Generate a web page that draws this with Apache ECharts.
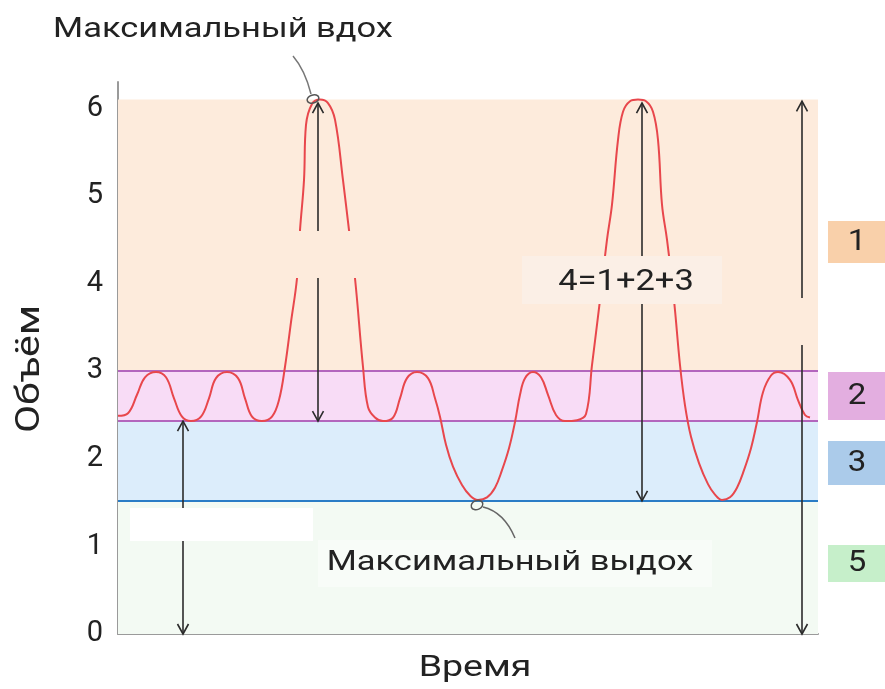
<!DOCTYPE html>
<html><head><meta charset="utf-8">
<script src="https://cdn.jsdelivr.net/npm/echarts@6/dist/echarts.min.js"></script>
<style>html,body{margin:0;padding:0;background:#fff;}#c{width:885px;height:689px;}</style>
</head><body><div id="c"></div>
<script>
// Time (arbitrary units) and volume values
const curveT = [0,1.0,1.9,2.7,3.8,4.8,5.6,6.4,7.3,8.3,9.1,9.8,10.9,12.0,12.7,13.4,14.4,15.4,16.1,16.7,17.3,17.9,18.2,18.6,18.8,19.4,20.2,21.0,21.7,22.5,23.1,23.7,24.5,25.0,25.7,26.5,27.5,28.2,28.9,29.9,31.0,31.7,32.2,32.8,33.5,34.4,35.2,36.0,36.9,37.7,38.4,39.1,39.7,40.2,40.7,41.5,42.3,43.0,43.8,44.7,45.9,46.8,47.4,48.2,48.9,49.4,50.0,50.5,51.2,52.0,52.8,53.5,54.0,54.4,54.9,55.6,56.2,56.7,57.3,58.1,59.0,59.7,60.4,61.2,61.9,62.6,63.3,63.9,64.5,65.3,66.0,67.2,68.0,68.7,69.2];
const curveV = [2.49,2.52,2.73,2.93,2.99,2.93,2.69,2.48,2.43,2.48,2.69,2.92,2.99,2.92,2.69,2.48,2.43,2.48,2.67,3.05,3.56,4.06,4.61,5.18,5.81,6.05,6.10,6.06,5.87,5.18,4.61,4.06,3.05,2.59,2.47,2.43,2.47,2.69,2.92,2.99,2.92,2.69,2.48,2.16,1.91,1.70,1.58,1.53,1.56,1.67,1.87,2.12,2.42,2.73,2.92,2.99,2.93,2.73,2.50,2.43,2.44,2.51,3.07,3.81,4.50,4.90,5.64,5.96,6.08,6.10,6.08,5.96,5.64,4.90,4.50,3.81,3.07,2.61,2.25,1.95,1.71,1.59,1.53,1.56,1.67,1.87,2.12,2.42,2.76,2.95,2.99,2.90,2.67,2.50,2.47];
// Volume levels
const levelTop = 6.1, levelTidalTop = 3.0, levelTidalBottom = 2.43, levelResidual = 1.52;
// Double arrows: [time, from volume, to volume]
const arrowT = [20.0, 6.5, 52.4, 68.4];
const arrowFrom = [2.43, 0, 1.52, 0];
const arrowTo = [6.06, 2.43, 6.06, 6.08];
const yTicks = [0,1,2,3,4,5,6];
const legendLabels = ['1','2','3','5'];

const chart = echarts.init(document.getElementById('c'), null, {renderer:'canvas'});
const FONT = 'Roboto';
const curve = curveT.map((t,i)=>[t,curveV[i]]);
const arrows = arrowT.map((t,i)=>[t,arrowFrom[i],arrowTo[i]]);

function arrowItem(params, api){
  const x = api.value(0);
  const a = api.coord([x, api.value(1)]);
  const b = api.coord([x, api.value(2)]);
  const st = {stroke:'#2b2b2b', lineWidth:1.6, fill:null};
  const h = 10, w = 5.5;
  return {type:'group', children:[
    {type:'line', shape:{x1:a[0],y1:a[1],x2:b[0],y2:b[1]}, style:st},
    {type:'polyline', shape:{points:[[b[0]-w,b[1]+h],[b[0],b[1]],[b[0]+w,b[1]+h]]}, style:st},
    {type:'polyline', shape:{points:[[a[0]-w,a[1]-h],[a[0],a[1]],[a[0]+w,a[1]-h]]}, style:st}
  ]};
}

const legendColors = ['#f9d0aa','#e3aee0','#abcbea','#c6efca'];
const legendY = [[221,263],[372,420],[441,485],[545,582]];
const graphics = [];
legendLabels.forEach((lab,i)=>{
  graphics.push({type:'rect', z:100, shape:{x:828,y:legendY[i][0],width:57,height:legendY[i][1]-legendY[i][0]}, style:{fill:legendColors[i]}});
  graphics.push({type:'text', z:101, x:857, y:(legendY[i][0]+legendY[i][1])/2, scaleX:1.1, style:{text:lab, font:'30px '+FONT, fill:'#222', textAlign:'center', textVerticalAlign:'middle'}});
});
// occluding patches seen in the reference
graphics.push({type:'rect', z:100, shape:{x:288,y:231,width:70,height:47}, style:{fill:'#fdebdc'}});
graphics.push({type:'rect', z:100, shape:{x:790,y:298,width:25,height:47}, style:{fill:'#fdebdc'}});
graphics.push({type:'rect', z:100, shape:{x:522,y:256,width:200,height:48}, style:{fill:'#fbefe6'}});
graphics.push({type:'text', z:101, x:626, y:282, scaleX:1.15, style:{text:'4=1+2+3', font:'30px '+FONT, fill:'#222', textAlign:'center', textVerticalAlign:'middle'}});
graphics.push({type:'rect', z:100, shape:{x:130,y:508,width:183,height:33}, style:{fill:'#ffffff'}});
graphics.push({type:'rect', z:100, shape:{x:318,y:540,width:394,height:47}, style:{fill:'#f8fcf8'}});
graphics.push({type:'text', z:101, x:510, y:563, scaleX:1.23, style:{text:'Максимальный выдох', font:'28px '+FONT, fill:'#222', textAlign:'center', textVerticalAlign:'middle'}});
graphics.push({type:'text', z:101, x:223, y:30, scaleX:1.23, style:{text:'Максимальный вдох', font:'28px '+FONT, fill:'#222', textAlign:'center', textVerticalAlign:'middle'}});
// axis titles
graphics.push({type:'text', z:101, x:475, y:668, scaleX:1.25, style:{text:'Время', font:'30px '+FONT, fill:'#222', textAlign:'center', textVerticalAlign:'middle'}});
graphics.push({type:'text', z:101, x:31, y:369, rotation:Math.PI/2, scaleX:1.24, style:{text:'Объём', font:'33px '+FONT, fill:'#222', textAlign:'center', textVerticalAlign:'middle'}});
// leaders
graphics.push({type:'bezierCurve', z:101, shape:{x1:293,y1:56,cpx1:305,cpy1:70,x2:311,y2:94}, style:{stroke:'#777',lineWidth:1.5,fill:null}});
graphics.push({type:'ellipse', z:101, shape:{cx:313,cy:99,rx:6,ry:4}, rotation:0.3, originX:313, originY:99, style:{stroke:'#555',lineWidth:1.5,fill:null}});
graphics.push({type:'bezierCurve', z:101, shape:{x1:483,y1:507,cpx1:504,cpy1:512,x2:515,y2:538}, style:{stroke:'#666',lineWidth:1.5,fill:null}});
graphics.push({type:'ellipse', z:101, shape:{cx:477,cy:505,rx:6,ry:4.5}, rotation:0.4, originX:477, originY:505, style:{stroke:'#555',lineWidth:1.5,fill:null}});

chart.setOption({
  animation:false,
  grid:{left:118,right:67,top:82,bottom:55},
  xAxis:{type:'value', min:0, max:70, axisLine:{show:true,lineStyle:{color:'#9a9a9a',width:2}}, axisTick:{show:false}, axisLabel:{show:false}, splitLine:{show:false}},
  yAxis:{type:'value', min:0, max:6.3, interval:1, axisLine:{show:true,lineStyle:{color:'#9a9a9a',width:2}}, axisTick:{show:false}, splitLine:{show:false},
    axisLabel:{fontFamily:FONT,fontSize:29,color:'#222',margin:15,formatter:v=>yTicks.includes(v)?String(v):''}},
  graphic:graphics,
  series:[
    {type:'line', data:curve, smooth:0.4, symbol:'none', z:5, lineStyle:{color:'#e8474c',width:2},
      markArea:{silent:true, z:1, data:[
        [{coord:[0,levelTidalTop],itemStyle:{color:'#fdebdc'}},{coord:[70,levelTop]}],
        [{coord:[0,levelTidalBottom],itemStyle:{color:'#f8dcf6'}},{coord:[70,levelTidalTop]}],
        [{coord:[0,levelResidual],itemStyle:{color:'#dcedfb'}},{coord:[70,levelTidalBottom]}],
        [{coord:[0,0],itemStyle:{color:'#f3faf3'}},{coord:[70,levelResidual]}]
      ]},
      markLine:{silent:true, symbol:'none', label:{show:false}, z:3, data:[
        {yAxis:levelTidalTop, lineStyle:{color:'#b366bd',width:2,type:'solid'}},
        {yAxis:levelTidalBottom, lineStyle:{color:'#b366bd',width:2,type:'solid'}},
        {yAxis:levelResidual, lineStyle:{color:'#2a7cc6',width:2,type:'solid'}}
      ]}
    },
    {type:'custom', data:arrows, renderItem:arrowItem, z:6, silent:true}
  ]
});
</script></body></html>
